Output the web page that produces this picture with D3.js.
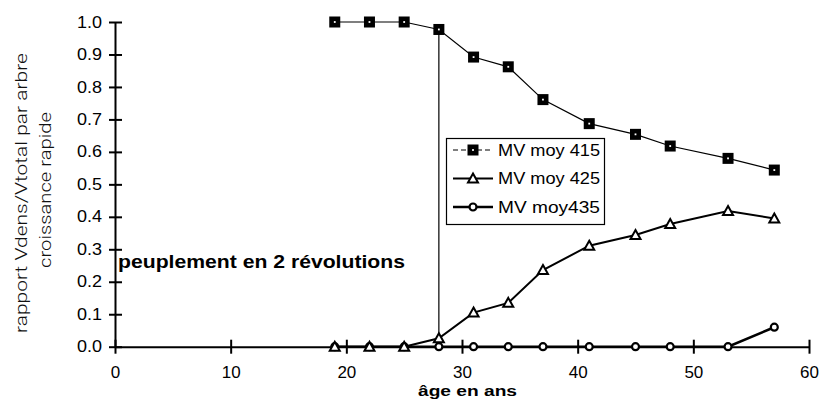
<!DOCTYPE html>
<html><head><meta charset="utf-8">
<script src="https://cdn.jsdelivr.net/npm/d3@7"></script>
<style>body{margin:0;background:#fff}svg{display:block}</style>
</head><body>
<script>
const ages = [19, 22, 25, 28, 31, 34, 37, 41, 45, 48, 53, 57];
const mv415 = [1.0, 1.0, 1.0, 0.977, 0.892, 0.862, 0.761, 0.687, 0.654, 0.618, 0.580, 0.544];
const mv425 = [0.0, 0.0, 0.0, 0.026, 0.105, 0.135, 0.236, 0.311, 0.344, 0.378, 0.418, 0.395];
const mv435 = [0.0, 0.0, 0.0, 0.0, 0.0, 0.0, 0.0, 0.0, 0.0, 0.0, 0.0, 0.06];
const seriesNames = ["MV moy 415", "MV moy 425", "MV moy435"];
const xTicks = [0, 10, 20, 30, 40, 50, 60];
const yTicks = [0, 0.1, 0.2, 0.3, 0.4, 0.5, 0.6, 0.7, 0.8, 0.9, 1.0];
const markerAge = 28;
const annotation = "peuplement en 2 révolutions";
const xTitle = "âge en ans";
const yTitle = ["rapport Vdens/Vtotal par arbre", "croissance rapide"];

const W = 819, H = 402;
const svg = d3.select("body").append("svg").attr("width", W).attr("height", H);
const x = d3.scaleLinear().domain([0, 60]).range([115, 809]);
const y = d3.scaleLinear().domain([0, 1]).range([346.7, 22]);

const font = "'Liberation Sans', Arial, Helvetica, sans-serif";

// axes
const yAx = svg.append("g").attr("transform", `translate(${x(0)},0)`)
  .call(d3.axisLeft(y).tickValues(yTicks).tickFormat(d3.format(".1f")).tickSizeInner(6).tickSizeOuter(0).tickPadding(7));
yAx.select(".domain").attr("stroke", "#000").attr("stroke-width", 2);
yAx.selectAll(".tick line").attr("x2", 7).attr("x1", -6).attr("stroke-width", 2);
yAx.selectAll(".tick text").attr("font-family", font).attr("font-size", 17).attr("fill", "#000")
  .attr("dy", "0.3em").attr("textLength", 25).attr("lengthAdjust", "spacingAndGlyphs");

const xAx = svg.append("g").attr("transform", `translate(0,${y(0)})`)
  .call(d3.axisBottom(x).tickValues(xTicks).tickSizeInner(6).tickSizeOuter(0).tickPadding(12));
xAx.select(".domain").attr("stroke", "#000").attr("stroke-width", 2);
xAx.selectAll(".tick line").attr("y1", -7).attr("y2", 7).attr("stroke-width", 2);
xAx.selectAll(".tick text").attr("font-family", font).attr("font-size", 17).attr("fill", "#000")
  .attr("y", 31.5).attr("dy", 0);

// axis titles
svg.append("text").attr("x", 467.5).attr("y", 396).attr("text-anchor", "middle")
  .attr("font-family", font).attr("font-weight", "bold").attr("font-size", 14)
  .attr("textLength", 99).attr("lengthAdjust", "spacingAndGlyphs").text(xTitle);
const yt = svg.append("g").attr("font-family", "Roboto, 'Liberation Sans', sans-serif").attr("font-weight", 300)
  .attr("font-size", 16.5).attr("fill", "#111");
yt.append("text").attr("transform", "translate(27,193) rotate(-90)").attr("text-anchor", "middle")
  .attr("textLength", 280).attr("lengthAdjust", "spacingAndGlyphs").text(yTitle[0]);
yt.append("text").attr("transform", "translate(51,190) rotate(-90)").attr("text-anchor", "middle")
  .attr("textLength", 156).attr("lengthAdjust", "spacingAndGlyphs").text(yTitle[1]);

// annotation
svg.append("text").attr("x", 118).attr("y", 268).attr("font-family", font).attr("font-weight", "bold")
  .attr("font-size", 18).attr("textLength", 287).attr("lengthAdjust", "spacingAndGlyphs").text(annotation);

// vertical marker line
const mi = ages.indexOf(markerAge);
svg.append("line").attr("x1", x(markerAge)).attr("x2", x(markerAge))
  .attr("y1", y(mv415[mi])).attr("y2", y(0)).attr("stroke", "#000").attr("stroke-width", 1.2);

const line = d3.line().x(d => x(d[0])).y(d => y(d[1]));
const data = [mv415, mv425, mv435].map(v => ages.map((a, i) => [a, v[i]]));
const widths = [1.2, 2, 2.6];

data.forEach((d, k) => {
  svg.append("path").datum(d).attr("d", line).attr("fill", "none").attr("stroke", "#000").attr("stroke-width", widths[k]);
});

function drawMarker(g, k, cx, cy) {
  if (k === 0) {
    g.append("rect").attr("x", cx - 5.5).attr("y", cy - 5.5).attr("width", 11).attr("height", 11).attr("fill", "#000");
    g.append("rect").attr("x", cx - 0.9).attr("y", cy - 0.9).attr("width", 1.8).attr("height", 1.8).attr("fill", "#fff");
  } else if (k === 1) {
    g.append("path").attr("d", `M${cx},${cy - 5}L${cx + 5},${cy + 4}L${cx - 5},${cy + 4}Z`)
      .attr("fill", "#fff").attr("stroke", "#000").attr("stroke-width", 2);
  } else {
    g.append("circle").attr("cx", cx).attr("cy", cy).attr("r", 3.5)
      .attr("fill", "#fff").attr("stroke", "#000").attr("stroke-width", 2.2);
  }
}
[2, 1, 0].forEach(k => {
  const g = svg.append("g");
  data[k].forEach(p => drawMarker(g, k, x(p[0]), y(p[1])));
});

// legend
const lg = svg.append("g");
lg.append("rect").attr("x", 446.5).attr("y", 138.5).attr("width", 158).attr("height", 86)
  .attr("fill", "#fff").attr("stroke", "#000").attr("stroke-width", 1.2);
const rowsY = [150, 178.5, 207];
seriesNames.forEach((n, k) => {
  const ly = rowsY[k];
  lg.append("line").attr("x1", 453).attr("x2", 493).attr("y1", ly).attr("y2", ly)
    .attr("stroke", "#000").attr("stroke-width", widths[k]).attr("stroke-dasharray", k === 0 ? "5,3" : null);
  drawMarker(lg, k, 473, ly);
  lg.append("text").attr("x", 498).attr("y", ly + 5.5).attr("font-family", font).attr("font-size", 16)
    .attr("textLength", 102).attr("lengthAdjust", "spacingAndGlyphs").text(n);
});
</script>
</body></html>
